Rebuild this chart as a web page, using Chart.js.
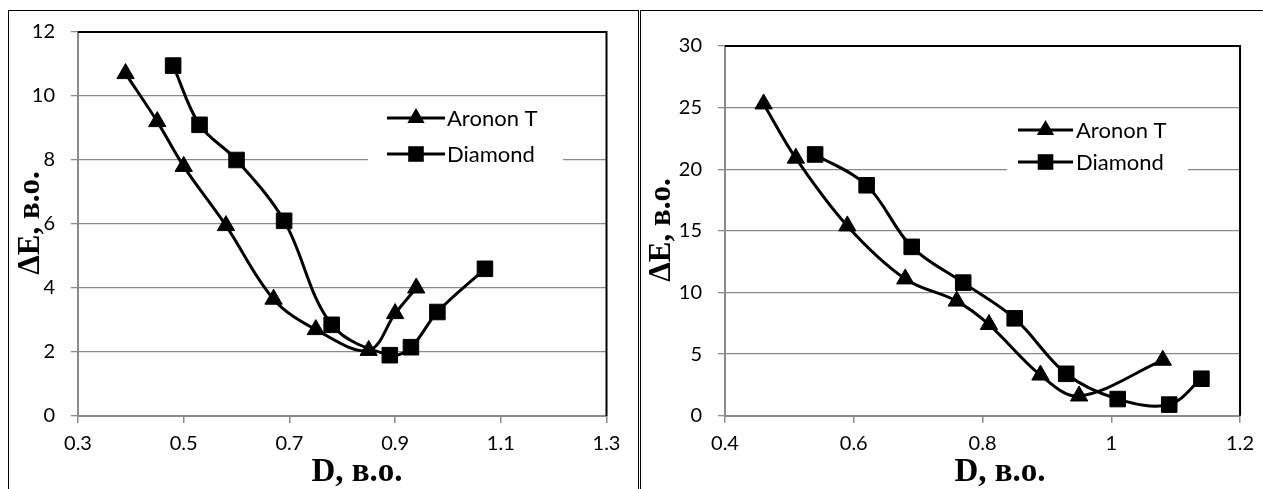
<!DOCTYPE html>
<html><head><meta charset="utf-8">
<script src="https://cdn.jsdelivr.net/npm/chart.js@4.4.1/dist/chart.umd.min.js"></script>
<style>
html,body{margin:0;padding:0;background:#fff;width:1263px;height:489px;overflow:hidden;position:relative}
.frame{position:absolute;border-top:1px solid #000;border-left:1px solid #000;box-sizing:border-box}
#f1{left:8px;top:10px;width:631px;height:520px;border-right:1px solid #000}
#f2{left:640px;top:10px;width:640px;height:520px}
canvas{position:absolute;top:0}
#c1{left:0}
#c2{left:641px}
</style></head><body>
<div class="frame" id="f1"></div><div class="frame" id="f2"></div>
<canvas id="c1" width="638" height="489"></canvas>
<canvas id="c2" width="622" height="489"></canvas>
<script>
// ---- data ----
const seriesNames = ['Aronon T', 'Diamond'];
const xTitle = 'D, в.о.';
const yTitle = 'ΔE, в.о.';

const leftArononX  = [0.39, 0.45, 0.50, 0.58, 0.67, 0.75, 0.85, 0.90, 0.94];
const leftArononY  = [10.7, 9.2, 7.8, 5.95, 3.65, 2.7, 2.05, 3.2, 4.0];
const leftDiamondX = [0.48, 0.53, 0.60, 0.69, 0.78, 0.89, 0.93, 0.98, 1.07];
const leftDiamondY = [10.95, 9.1, 8.0, 6.1, 2.85, 1.9, 2.15, 3.25, 4.6];

const rightArononX  = [0.46, 0.51, 0.59, 0.68, 0.76, 0.81, 0.89, 0.95, 1.08];
const rightArononY  = [25.3, 20.9, 15.4, 11.1, 9.3, 7.4, 3.3, 1.6, 4.5];
const rightDiamondX = [0.54, 0.62, 0.69, 0.77, 0.85, 0.93, 1.01, 1.09, 1.14];
const rightDiamondY = [21.2, 18.7, 13.7, 10.8, 7.9, 3.4, 1.35, 0.9, 3.0];

const leftXTicks = [0.3, 0.5, 0.7, 0.9, 1.1, 1.3];
const leftXTickLabels = ['0.3', '0.5', '0.7', '0.9', '1.1', '1.3'];
const leftYTicks = [0, 2, 4, 6, 8, 10, 12];
const leftYTickLabels = ['0', '2', '4', '6', '8', '10', '12'];

const rightXTicks = [0.4, 0.6, 0.8, 1.0, 1.2];
const rightXTickLabels = ['0.4', '0.6', '0.8', '1', '1.2'];
const rightYTicks = [0, 5, 10, 15, 20, 25, 30];
const rightYTickLabels = ['0', '5', '10', '15', '20', '25', '30'];

// ---- helpers ----
const FONT = 'Lato';
const GRID = '#8a8a8a';
const pts = (xs, ys) => xs.map((x, i) => ({x: x, y: ys[i]}));

function drawMarker(ctx, style, x, y) {
  ctx.save();
  ctx.fillStyle = '#000';
  ctx.beginPath();
  if (style === 'triangle') {
    const r = 10;
    ctx.moveTo(x, y - r);
    ctx.lineTo(x + r * 0.866, y + r / 2);
    ctx.lineTo(x - r * 0.866, y + r / 2);
    ctx.closePath();
  } else {
    const s = 7.8;
    ctx.rect(x - s, y - s, 2 * s, 2 * s);
  }
  ctx.fill();
  ctx.restore();
}

const framePlugin = {
  id: 'plotFrame',
  beforeDatasetsDraw(chart) {
    const a = chart.chartArea, ctx = chart.ctx;
    ctx.save();
    ctx.strokeStyle = '#000';
    ctx.lineWidth = 2;
    ctx.beginPath();
    ctx.moveTo(a.left, a.top);
    ctx.lineTo(a.right, a.top);
    ctx.lineTo(a.right, a.bottom);
    ctx.stroke();
    ctx.restore();
  }
};

const extrasPlugin = {
  id: 'extras',
  afterDraw(chart, args, opts) {
    const ctx = chart.ctx;
    // legend
    const L = opts.legend;
    ctx.save();
    ctx.fillStyle = '#fff';
    ctx.fillRect(L.box[0], L.box[1], L.box[2] - L.box[0], L.box[3] - L.box[1]);
    chart.data.datasets.forEach((ds, i) => {
      const y = L.rows[i];
      ctx.strokeStyle = '#000';
      ctx.lineWidth = 3;
      ctx.beginPath();
      ctx.moveTo(L.line[0], y);
      ctx.lineTo(L.line[1], y);
      ctx.stroke();
      drawMarker(ctx, ds.pointStyle, (L.line[0] + L.line[1]) / 2, y);
      ctx.fillStyle = '#000';
      ctx.font = '22px ' + FONT;
      ctx.textAlign = 'left';
      ctx.textBaseline = 'middle';
      ctx.fillText(ds.label, L.textX, y + 1);
    });
    // axis titles
    const T = opts.titles;
    ctx.fillStyle = '#000';
    ctx.textAlign = 'center';
    ctx.textBaseline = 'middle';
    ctx.font = 'bold 33px "Liberation Serif"';
    ctx.fillText(xTitle, T.x[0], T.x[1]);
    ctx.font = 'bold 31px "Liberation Serif"';
    ctx.translate(T.y[0], T.y[1]);
    ctx.rotate(-Math.PI / 2);
    ctx.fillText(yTitle, 0, 0);
    ctx.restore();
  }
};

function makeChart(id, series, xr, yr, layout, extras) {
  const styles = ['triangle', 'rect'];
  const radii = [10, 11];
  return new Chart(document.getElementById(id), {
    type: 'line',
    data: {
      datasets: series.map((s, i) => ({
        label: seriesNames[i],
        data: s,
        borderColor: '#000',
        backgroundColor: '#000',
        borderWidth: 3,
        tension: 0.35,
        pointStyle: styles[i],
        pointRadius: radii[i],
        pointHoverRadius: radii[i],
        pointBackgroundColor: '#000',
        pointBorderColor: '#000',
        pointBorderWidth: 1,
        fill: false
      }))
    },
    options: {
      responsive: false,
      animation: false,
      events: [],
      layout: {padding: layout.padding},
      plugins: {
        legend: {display: false},
        tooltip: {enabled: false},
        extras: extras
      },
      scales: {
        x: {
          type: 'linear',
          min: xr.ticks[0],
          max: xr.ticks[xr.ticks.length - 1],
          afterBuildTicks: sc => { sc.ticks = xr.ticks.map(v => ({value: v})); },
          afterFit: sc => { sc.height = 40; },
          ticks: {
            autoSkip: false,
            maxRotation: 0,
            padding: 9,
            color: '#000',
            font: {family: FONT, size: 20},
            callback: (v, i) => xr.labels[i]
          },
          grid: {drawOnChartArea: false, drawTicks: true, tickLength: 7, color: GRID, lineWidth: 1.5},
          border: {display: true, color: GRID, width: 2}
        },
        y: {
          type: 'linear',
          min: yr.ticks[0],
          max: yr.ticks[yr.ticks.length - 1],
          afterBuildTicks: sc => { sc.ticks = yr.ticks.map(v => ({value: v})); },
          afterFit: sc => { sc.width = 60; },
          ticks: {
            autoSkip: false,
            padding: 16,
            color: '#000',
            font: {family: FONT, size: 20},
            callback: (v, i) => yr.labels[i]
          },
          grid: {drawOnChartArea: true, drawTicks: true, tickLength: 7, color: GRID, lineWidth: 1.3},
          border: {display: true, color: GRID, width: 2}
        }
      }
    },
    plugins: [framePlugin, extrasPlugin]
  });
}

makeChart('c1',
  [pts(leftArononX, leftArononY), pts(leftDiamondX, leftDiamondY)],
  {ticks: leftXTicks, labels: leftXTickLabels},
  {ticks: leftYTicks, labels: leftYTickLabels},
  {padding: {left: 18, right: 31.5, top: 32, bottom: 33}},
  {legend: {box: [368, 100, 563, 172], line: [387, 445], rows: [118, 154], textX: 447},
   titles: {x: [357, 472], y: [31, 223]}}
);

makeChart('c2',
  [pts(rightArononX, rightArononY), pts(rightDiamondX, rightDiamondY)],
  {ticks: rightXTicks, labels: rightXTickLabels},
  {ticks: rightYTicks, labels: rightYTickLabels},
  {padding: {left: 24, right: 21.3, top: 46, bottom: 33.3}},
  {legend: {box: [366, 112, 547, 180], line: [377, 432], rows: [130, 162], textX: 435},
   titles: {x: [359, 472], y: [21, 230]}}
);
</script>
</body></html>
